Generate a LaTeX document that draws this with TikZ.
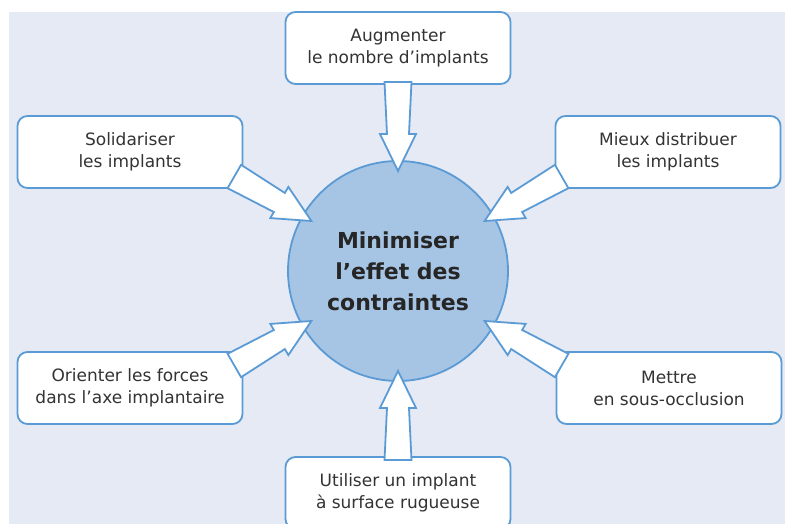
\documentclass[tikz,border=0pt]{standalone}
\usepackage{fontspec}
\setmainfont{DejaVu Sans}
\usepackage{tikz}
\usepackage{xcolor}

\definecolor{fondbleu}{HTML}{E6EAF5}
\definecolor{traitbleu}{HTML}{5B9BD5}
\definecolor{disquebleu}{HTML}{A6C4E4}
\definecolor{textegris}{HTML}{333333}

\tikzset{
    boite/.style={draw=traitbleu, line width=1.8pt, fill=white, rounded corners=10pt,
        minimum width=225pt, minimum height=72pt, align=center, text=textegris,
        font=\fontsize{17}{22}\selectfont},
    disque/.style={circle, draw=traitbleu, line width=1.8pt, fill=disquebleu,
        minimum size=220pt, inner sep=0pt, align=center, text=black!85,
        font=\fontsize{22}{31}\selectfont\bfseries},
    fleche/.style={draw=traitbleu, line width=1.8pt, fill=white, line join=miter}
}

\begin{document}
\begin{tikzpicture}[x=1pt, y=-1pt]
    \useasboundingbox (0,0) rectangle (785,524);
    \clip (0,0) rectangle (785,524);
    \fill[fondbleu] (9,12) rectangle (785,524);

    \node[disque] (effet) at (398,271) {Minimiser\\l'effet des\\contraintes};

    \node[boite] (augmenter) at (398,48) {Augmenter\\le nombre d'implants};
    \node[boite] (solidariser) at (130,152) {Solidariser\\les implants};
    \node[boite] (distribuer) at (668,152) {Mieux distribuer\\les implants};
    \node[boite] (orienter) at (130,388) {Orienter les forces\\dans l'axe implantaire};
    \node[boite] (occlusion) at (669,388) {Mettre\\en sous-occlusion};
    \node[boite] (rugueuse) at (398,493) {Utiliser un implant\\à surface rugueuse};

    % fleches vers le disque
    \foreach \ang in {90,30,150,210,270,330}{
        \begin{scope}[shift={(effet.center)}, rotate=\ang]
            \draw[fleche] (100,0) -- (137,18) -- (137,11) -- (189,13.5)
                -- (189,-13.5) -- (137,-11) -- (137,-18) -- cycle;
        \end{scope}
    }
\end{tikzpicture}
\end{document}
